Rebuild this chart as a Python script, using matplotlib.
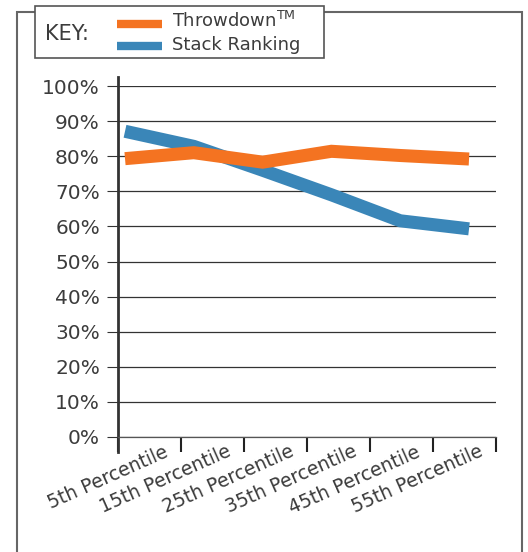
import numpy as np
import matplotlib
matplotlib.use("Agg")
import matplotlib.pyplot as plt
from matplotlib.patches import Rectangle
from matplotlib.lines import Line2D

# data (percent)
categories = ["5th Percentile", "15th Percentile", "25th Percentile",
              "35th Percentile", "45th Percentile", "55th Percentile"]
throwdown = [79.3, 81.0, 78.3, 81.4, 80.2, 79.2]
stack_ranking = [87.1, 82.8, 76.0, 69.0, 61.6, 59.3]
y_ticks = [0, 10, 20, 30, 40, 50, 60, 70, 80, 90, 100]

ORANGE = "#F47321"
BLUE = "#3A86B8"
TEXT = "#3c3c3c"

W, H = 528, 552


def fx(x):
    return x / W


def fy(y):
    return 1 - y / H


fig = plt.figure(figsize=(W / 100, H / 100), dpi=100)
plt.rcParams["font.family"] = ["DejaVu Sans"]
plt.rcParams["mathtext.fontset"] = "dejavusans"

# outer frame (runs off the bottom)
fig.add_artist(Rectangle((fx(17), fy(600)), fx(522) - fx(17), fy(12) - fy(600),
                         transform=fig.transFigure, fill=False,
                         edgecolor="#666666", lw=1.5, clip_on=False))

ax = fig.add_axes([fx(118), fy(437), fx(496) - fx(118), fy(86) - fy(437)])

x = np.arange(len(categories))
ax.plot(x, stack_ranking, color=BLUE, lw=9.4, solid_capstyle="butt",
        solid_joinstyle="miter", zorder=3)
ax.plot(x, throwdown, color=ORANGE, lw=9.4, solid_capstyle="butt",
        solid_joinstyle="miter", zorder=4)

xlo, xhi = -0.102, 5.392
ax.set_xlim(xlo, xhi)
ax.set_ylim(0, 100)

# y axis
ax.set_yticks(y_ticks)
ax.set_yticklabels([f"{v}%" for v in y_ticks], fontsize=14.5, color=TEXT)
ax.tick_params(axis="y", length=8, width=0.8, color="#333333", pad=5)
ax.yaxis.grid(True, color="#333333", lw=0.9)
ax.set_axisbelow(True)

# x axis: ticks on category boundaries, labels just left of each tick
bounds = np.linspace(xlo, xhi, len(categories) + 1)
ax.set_xticks(bounds)
ax.set_xticklabels([])
ax.tick_params(axis="x", which="major", direction="out", length=11,
               width=1.5, color="#222222")
ax.set_xticks(bounds[1:] - 0.2, minor=True)
ax.set_xticklabels(categories, minor=True, fontsize=13.5, color=TEXT,
                   rotation=24, ha="right", va="center", rotation_mode="anchor")
ax.tick_params(axis="x", which="minor", length=0, pad=10)

for s in ["top", "right"]:
    ax.spines[s].set_visible(False)
ax.spines["bottom"].set_color("#555555")
ax.spines["bottom"].set_linewidth(0.9)
ax.spines["left"].set_color("#333333")
ax.spines["left"].set_linewidth(2)
ax.spines["left"].set_bounds(-4.3, 102.6)

# key box
fig.add_artist(Rectangle((fx(35), fy(58)), fx(324) - fx(35), fy(6) - fy(58),
                         transform=fig.transFigure, facecolor="white",
                         edgecolor="#555555", lw=1.2, zorder=5))
fig.text(fx(45), fy(34), "KEY:", fontsize=15, color=TEXT, va="center",
         ha="left", zorder=6)
fig.add_artist(Line2D([fx(117), fx(162)], [fy(24), fy(24)], color=ORANGE,
                      lw=6, solid_capstyle="butt", transform=fig.transFigure,
                      zorder=6))
fig.add_artist(Line2D([fx(117), fx(162)], [fy(46), fy(46)], color=BLUE,
                      lw=6, solid_capstyle="butt", transform=fig.transFigure,
                      zorder=6))
fig.text(fx(172), fy(21), r"Throwdown$^{\rm TM}$", fontsize=13, color=TEXT,
         va="center", ha="left", zorder=6)
fig.text(fx(172), fy(45), "Stack Ranking", fontsize=13, color=TEXT,
         va="center", ha="left", zorder=6)

fig.savefig("out.png", dpi=100)
